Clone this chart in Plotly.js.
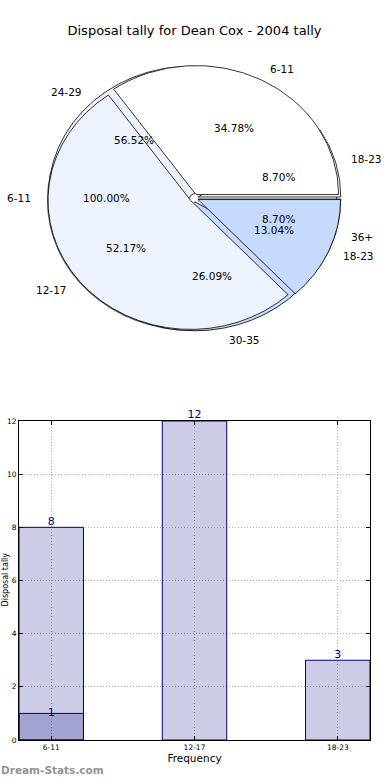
<!DOCTYPE html>
<html><head><meta charset="utf-8">
<script src="https://cdn.plot.ly/plotly-3.0.1.min.js"></script>
<style>html,body{margin:0;padding:0;background:#fff}#chart{width:390px;height:780px}.pielayer path{vector-effect:non-scaling-stroke}</style>
</head><body><div id="chart"></div>
<script>
// ---- data ----
const chartTitle = 'Disposal tally for Dean Cox - 2004 tally';
const pieALabels = ['6-11'];
const pieAValues = [1];
const pieBLabels = ['6-11', '12-17', '18-23'];
const pieBValues = [8, 12, 3];
const pieCLabels = ['18-23', '24-29', '30-35', '36+'];
const pieCValues = [2, 13, 6, 2];
const barCategories = ['6-11', '12-17', '18-23'];
const barValues = [8, 12, 3];
const overlayCategories = ['6-11'];
const overlayValues = [1];
const xAxisTitle = 'Frequency';
const yAxisTitle = 'Disposal tally';
const watermark = 'Dream-Stats.com';

// ---- geometry / style ----
const W = 390, H = 780;
const CX = 194, CY = 198, RX = 146, RY = 132;   // text geometry
const RP = 129;                                 // pie radius (vertical, px)
const PULL = 0.03;
const px = x => x / W;
const py = y => 1 - y / H;
function dom(cx, cy, h) {
  return {x: [px(cx - h), px(cx + h)], y: [py(cy + h), py(cy - h)]};
}
const edge = {color: '#000', width: 0.8};
const sum = a => a.reduce((p, q) => p + q, 0);

// first slice starts at 3 o'clock and runs counter-clockwise (matplotlib default)
function pieTrace(labels, values, colors, pull, domain) {
  return {
    type: 'pie', labels: labels, values: values, sort: false,
    direction: 'counterclockwise', rotation: 90 - 360 * values[0] / sum(values),
    pull: values.map(() => pull), domain: domain,
    marker: {colors: colors, line: edge},
    textinfo: 'none', hoverinfo: 'skip', showlegend: false
  };
}

const data = [
  {type: 'pie', labels: ['s'], values: [1], sort: false, domain: dom(CX - 2.5, CY + 2.5, RP + 1.5),
   marker: {colors: ['rgba(60,60,60,0.8)'], line: {width: 0}}, textinfo: 'none', hoverinfo: 'skip', showlegend: false},
  pieTrace(pieALabels, pieAValues, ['#FFFFFF'], 0, dom(CX, CY, RP)),
  pieTrace(pieCLabels, pieCValues, ['#FFFFFF', '#ECF2FE', '#C6D9FE', '#C6D9FE'], PULL, dom(CX, CY, RP * (1 + PULL))),
  pieTrace(pieBLabels, pieBValues, ['#FFFFFF', '#ECF2FE', '#C6D9FE'], PULL, dom(CX, CY, RP * (1 + PULL))),
  {type: 'bar', x: barCategories, y: barValues, width: 0.45,
   marker: {color: 'rgba(0,0,128,0.2)', line: {color: '#000080', width: 1}}, hoverinfo: 'skip'},
  {type: 'bar', x: overlayCategories, y: overlayValues, width: 0.45,
   marker: {color: 'rgba(0,0,128,0.2)', line: {color: '#000080', width: 1}}, hoverinfo: 'skip'},
  {type: 'scatter', mode: 'text', x: barCategories, y: barValues, text: barValues.map(String),
   textposition: 'top center', textfont: {color: '#000080', size: 11}, cliponaxis: false, hoverinfo: 'skip'},
  {type: 'scatter', mode: 'text', x: overlayCategories, y: overlayValues, text: overlayValues.map(String),
   textposition: 'middle center', textfont: {color: '#000080', size: 11}, cliponaxis: false, hoverinfo: 'skip'}
];

// pie text labels (matplotlib-style: label at 1.1r, percent at 0.6r)
const annotations = [];
function pieTexts(labels, values) {
  const total = sum(values);
  let cum = 0;
  values.forEach((v, i) => {
    const mid = (cum + v / 2) / total * 2 * Math.PI;
    cum += v;
    const c = Math.cos(mid), s = Math.sin(mid);
    annotations.push({xref: 'paper', yref: 'paper', x: px(CX + 1.1 * RX * c), y: py(CY - 1.1 * RY * s),
      text: labels[i], showarrow: false, xanchor: c > 0 ? 'left' : 'right', yanchor: 'middle',
      font: {size: 10.5, color: '#000'}});
    annotations.push({xref: 'paper', yref: 'paper', x: px(CX + 0.6 * RX * c), y: py(CY - 0.6 * RY * s),
      text: (v / total * 100).toFixed(2) + '%', showarrow: false, xanchor: 'center', yanchor: 'middle',
      font: {size: 10.5, color: '#000'}});
  });
}
pieTexts(pieALabels, pieAValues);
pieTexts(pieCLabels, pieCValues);
pieTexts(pieBLabels, pieBValues);

annotations.push({xref: 'paper', yref: 'paper', x: px(4.5), y: py(580), text: yAxisTitle, textangle: -90,
  showarrow: false, xanchor: 'center', yanchor: 'middle', borderpad: 0, font: {size: 8, color: '#000'}});
annotations.push({xref: 'paper', yref: 'paper', x: px(-1), y: py(770), text: watermark,
  showarrow: false, xanchor: 'left', yanchor: 'middle', font: {size: 10.5, color: '#939393', weight: 'bold'}});

const axisCommon = {
  showline: true, linecolor: '#000', linewidth: 1, mirror: 'ticks',
  ticks: 'inside', ticklen: 4, tickcolor: '#000', tickwidth: 1,
  showgrid: true, gridcolor: '#b4b4b4', griddash: '1px,2px', gridwidth: 1,
  zeroline: false, fixedrange: true, tickfont: {size: 7.5, color: '#000'}
};

const layout = {
  width: W, height: H, margin: {l: 0, r: 0, t: 0, b: 0},
  paper_bgcolor: '#fff', plot_bgcolor: '#fff',
  font: {family: 'DejaVu Sans, sans-serif', color: '#000'},
  showlegend: false, barmode: 'overlay',
  title: {text: chartTitle, x: px(194.5), xanchor: 'center', y: py(30), yanchor: 'middle', font: {size: 13, color: '#000'}},
  xaxis: Object.assign({}, axisCommon, {domain: [px(19), px(370)], type: 'category', categoryorder: 'array',
    categoryarray: barCategories, range: [-0.225, 2.225],
    title: {text: xAxisTitle, font: {size: 10.5}, standoff: 3}}),
  yaxis: Object.assign({}, axisCommon, {domain: [py(740), py(421)], range: [0, 12], tick0: 0, dtick: 2}),
  annotations: annotations
};

Plotly.newPlot('chart', data, layout, {staticPlot: true, displayModeBar: false}).then(gd => {
  const g = gd.querySelector('.pielayer');
  if (g) g.setAttribute('transform', `translate(${CX},${CY}) scale(${RX / RY},1) translate(${-CX},${-CY})`);
});
</script>
</body></html>
